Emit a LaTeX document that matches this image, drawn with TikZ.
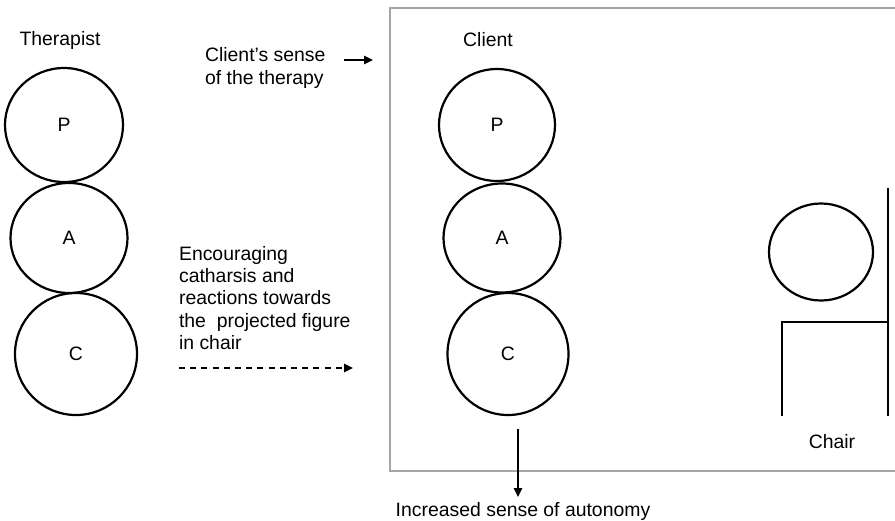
\documentclass[tikz,border=0pt]{standalone}
\usepackage{fontspec}
\setmainfont{Liberation Sans}
\usetikzlibrary{shapes.geometric,arrows.meta}
\definecolor{boxgray}{RGB}{165,165,165}

\begin{document}
\begin{tikzpicture}[x=0.5pt,y=-0.5pt,
  every node/.style={font=\fontsize{9.7}{11.2}\selectfont},
  ego/.style={draw,ellipse,line width=1.1pt,inner sep=0pt},
  tip/.style={-{Triangle[length=4.5pt,width=4.2pt]},line width=0.9pt}]
  \useasboundingbox (0,0) rectangle (895,520);
  \clip (0,0) rectangle (895,520);

  % Client's box (right side runs off the page)
  \draw[boxgray,line width=1pt] (390,8) rectangle (905,471);

  % Column titles
  \node (therapist) at (60,40) {Therapist};
  \node (client) at (488,40) {Client};

  % Therapist ego states
  \node[ego,minimum width=59pt,minimum height=57pt] (tp) at (64,125) {P};
  \node[ego,minimum width=58.5pt,minimum height=55pt] (ta) at (69,238) {A};
  \node[ego,minimum width=61pt,minimum height=61pt] (tc) at (76,354) {C};

  % Client ego states
  \node[ego,minimum width=58pt,minimum height=56pt] (cp) at (497,125) {P};
  \node[ego,minimum width=58.5pt,minimum height=54.5pt] (ca) at (502,238) {A};
  \node[ego,minimum width=60.5pt,minimum height=61pt] (cc) at (508,354) {C};

  % Labels with arrows
  \node[anchor=west,align=left] (sense) at (198,68) {Client's sense\\of the therapy};
  \coordinate (sensetail) at (344,60);
  \coordinate (sensetip) at (373,60);
  \draw[tip] (sensetail) -- (sensetip);

  \node[anchor=west,align=left] (encourage) at (172,298)
    {Encouraging\\catharsis and\\reactions towards\\the\ \ projected figure\\in chair};
  \coordinate (dashtail) at (179,368);
  \coordinate (dashtip) at (353,368);
  \draw[tip,dashed,dash pattern=on 3pt off 2.6pt] (dashtail) -- (dashtip);

  \node (autonomy) at (523,511) {Increased sense of autonomy};
  \coordinate (downtail) at (518,429);
  \coordinate (downtip) at (518,497);
  \draw[tip] (downtail) -- (downtip);

  % Empty chair
  \node[ego,minimum width=52pt,minimum height=48.5pt] (figure) at (821,252) {};
  \draw[line width=1.1pt] (888,188) -- (888,416);
  \draw[line width=1.1pt] (782,416) -- (782,322) -- (888,322);
  \node (chair) at (832,442) {Chair};
\end{tikzpicture}
\end{document}
